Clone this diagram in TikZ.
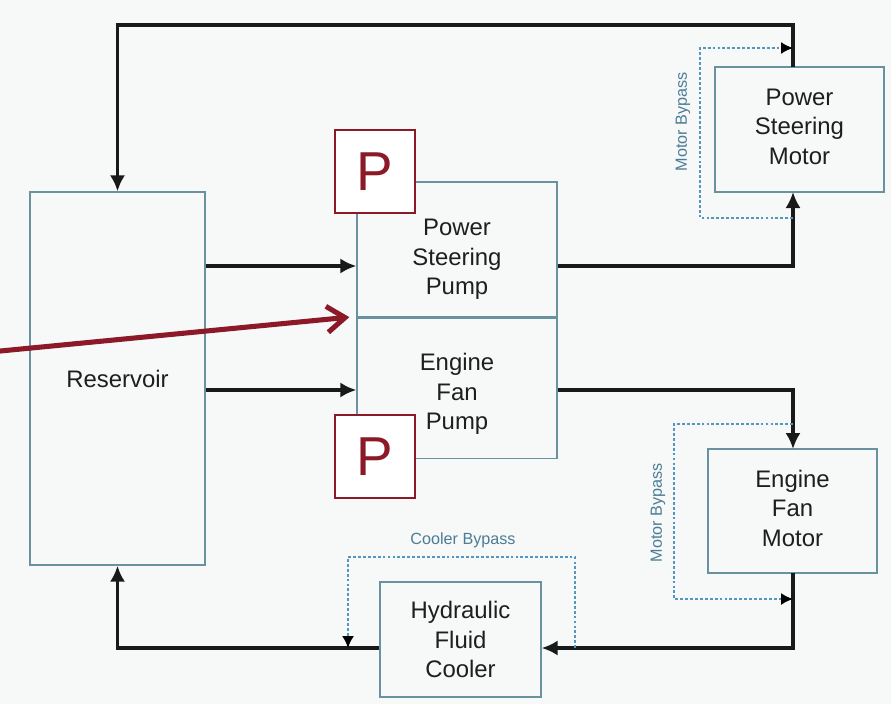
\documentclass[tikz,border=0pt]{standalone}
\usepackage{fontspec}
\setmainfont{Liberation Sans}
\usetikzlibrary{positioning,arrows.meta}
\definecolor{boxline}{RGB}{105,145,160}
\definecolor{bypassblue}{RGB}{85,150,190}
\definecolor{labelblue}{RGB}{75,125,150}
\definecolor{pred}{RGB}{140,25,40}
\definecolor{bgcolor}{RGB}{247,248,248}
\definecolor{textdark}{RGB}{30,30,30}
\begin{document}
\begin{tikzpicture}[x=0.025cm, y=-0.025cm,
    unit/.style={rectangle, draw=boxline, line width=0.9pt, inner sep=0pt, align=center, text=textdark, font=\fontsize{17}{21}\selectfont},
    unittext/.style={inner sep=0pt, align=center, text=textdark, font=\fontsize{17}{21}\selectfont},
    pbox/.style={rectangle, draw=pred, line width=1pt, fill=white, inner sep=0pt, minimum width=2cm, minimum height=2.075cm, text=pred, font=\fontsize{39}{39}\selectfont},
    flow/.style={-{Latex[length=4mm,width=3.8mm]}, line width=2.2pt, black!90},
    bypass/.style={-{Latex[length=3mm,width=3mm,color=black]}, bypassblue, line width=1.2pt, dash pattern=on 2pt off 1.5pt},
    bypasslabel/.style={text=labelblue, font=\fontsize{11.5}{13}\selectfont},
    pointer/.style={-{Straight Barb[length=4.5mm,width=6.5mm]}, pred, line width=3.6pt, line cap=round, line join=round}]
    \fill[bgcolor] (0,0) rectangle (891,704);
    \useasboundingbox (0,0) rectangle (891,704);

    % Nodes
    \node (reservoir) [unit, minimum width=4.375cm, minimum height=9.325cm] at (117.5,378.5) {Reservoir};
    \node (pspump) [unit, minimum width=5cm, minimum height=3.375cm,
        label={[unittext, yshift=-7pt]center:Power\\Steering\\Pump}] at (457,249.5) {};
    \node (efpump) [unit, minimum width=5cm, minimum height=3.5cm, below=0pt of pspump,
        label={[unittext, yshift=-4pt]center:Engine\\Fan\\Pump}] {};
    \node (psmotor) [unit, minimum width=4.225cm, minimum height=3.125cm,
        label={[unittext, yshift=2pt]center:Power\\Steering\\Motor}] at (799.5,129.5) {};
    \node (efmotor) [unit, minimum width=4.225cm, minimum height=3.1cm,
        label={[unittext, yshift=2pt]center:Engine\\Fan\\Motor}] at (792.5,511) {};
    \node (cooler) [unit, minimum width=4.025cm, minimum height=2.875cm] at (460.5,639.5) {Hydraulic\\Fluid\\Cooler};
    \node (ptop) [pbox] at (375,171.5) {P};
    \node (pbot) [pbox] at (375,456.5) {P};

    % Ports
    \coordinate (psin) at (793,192);
    \coordinate (psout) at (793,67);
    \coordinate (efin) at (793,449);
    \coordinate (efout) at (793,573);
    \coordinate (pointerstart) at (-10,352);

    % Arrows
    \draw[flow] (psout) -- ++(0,-42) -| (reservoir.north);
    \draw[flow] (reservoir.east |- 0,266) -- (pspump.west |- 0,266);
    \draw[flow] (reservoir.east |- 0,390) -- (efpump.west |- 0,390);
    \draw[flow] (pspump.east |- 0,266) -| (psin);
    \draw[flow] (efpump.east |- 0,390) -| (efin);
    \draw[flow] (efout) |- (cooler.east |- 0,648);
    \draw[flow] (cooler.west |- 0,648) -| (reservoir.south);

    % Bypasses
    \draw[bypass] (793,218) -| (700,48) -- (793,48);
    \node[bypasslabel, rotate=90] at (683,122) {Motor Bypass};
    \draw[bypass] (793,424) -| (674,599) -- (793,599);
    \node[bypasslabel, rotate=90] at (658,513) {Motor Bypass};
    \draw[bypass] (575,648) |- (348,557) -- (348,648);
    \node[bypasslabel] at (463,540) {Cooler Bypass};

    % Pointer
    \draw[pointer] (pointerstart) -- ([xshift=-7*0.025cm, yshift=0.5*0.025cm]pspump.south west);
\end{tikzpicture}
\end{document}
